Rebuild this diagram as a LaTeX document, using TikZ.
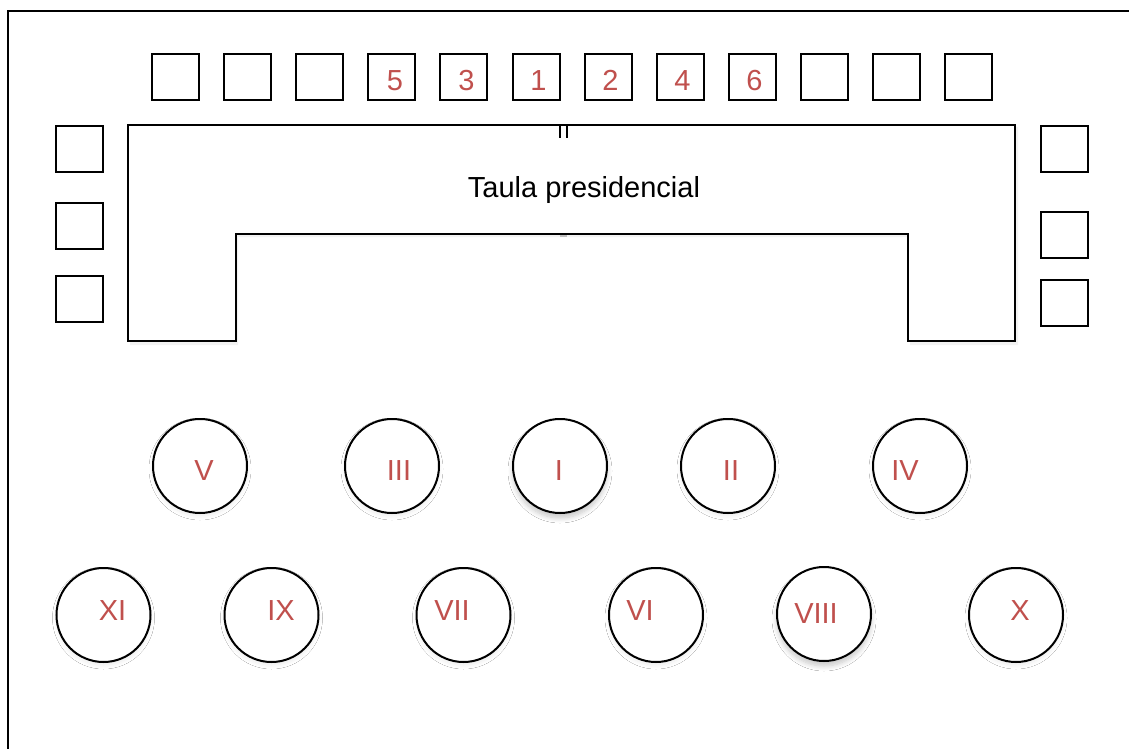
\documentclass[tikz,border=0pt]{standalone}
\usepackage{fontspec}
\setmainfont{Liberation Sans}
\usetikzlibrary{shadows.blur}
\definecolor{seatred}{RGB}{192,80,77}
\begin{document}
\begin{tikzpicture}[x=1pt,y=-1pt,
  ln/.style={line width=2pt,black},
  chair/.style={draw,ln,rectangle,minimum width=47pt,minimum height=46pt,inner sep=0pt},
  seat/.style={draw,ln,circle,minimum size=94pt,inner sep=0pt,fill=white,
     blur shadow={shadow blur steps=8,shadow xshift=0pt,shadow yshift=-3pt,shadow opacity=8,shadow blur radius=4pt}},
  seatstrong/.style={draw,ln,circle,minimum size=94pt,inner sep=0pt,fill=white,
     blur shadow={shadow blur steps=8,shadow xshift=0pt,shadow yshift=-5pt,shadow opacity=22,shadow blur radius=5pt}},
  lab/.style={font=\fontsize{29}{30}\selectfont,text=seatred,anchor=base,inner sep=0pt},
  ttl/.style={font=\fontsize{29}{30}\selectfont,text=black,anchor=base,inner sep=0pt}]
\useasboundingbox (0,0) rectangle (1129,749);
\fill[white] (0,0) rectangle (1129,749);
% frame
\coordinate (fb) at (7.5,760);
\coordinate (fc) at (7.5,10.7);
\coordinate (fr) at (1140,10.7);
\draw[ln] (fb) -- (fc) -- (fr);
% table
\fill[black,opacity=0.05] (130,127) -- (1018,127) -- (1018,345) -- (910,345) -- (910,237) -- (238,237) -- (238,345) -- (130,345) -- cycle;
\draw[ln,fill=white] (128,125) -- (1015,125) -- (1015,341) -- (908,341) -- (908,234) -- (236,234) -- (236,341) -- (128,341) -- cycle;
\draw[line width=1.2pt] (560,125) -- (560,138);
\draw[line width=1.2pt] (567,125) -- (567,138);
\draw[line width=2pt,black!25] (560,236) -- (567,236);
\node[ttl] (title) at (584,197) {Taula presidencial};
% top chairs
\foreach \i in {0,...,11} {
  \node[chair] (t\i) at ({175.5+72.1*\i},77) {};
}
\node[lab] (l5) at (395,91) {5};
\node[lab] (l3) at (466.5,91) {3};
\node[lab] (l1) at (538.5,91) {1};
\node[lab] (l2) at (610.5,91) {2};
\node[lab] (l4) at (682.5,91) {4};
\node[lab] (l6) at (754.5,91) {6};
% side chairs
\node[chair] (sl1) at (79.5,149) {};
\node[chair] (sl2) at (79.5,226) {};
\node[chair] (sl3) at (79.5,299) {};
\node[chair] (sr1) at (1064,149) {};
\node[chair] (sr2) at (1064,235) {};
\node[chair] (sr3) at (1064,303) {};
% row 1 seats
\node[seat] (cV) at (200,466) {};
\node[seat] (cIII) at (392,466) {};
\node[seatstrong] (cI) at (560,466) {};
\node[seat] (cII) at (728,466) {};
\node[seat] (cIV) at (920,466) {};
% row 2 seats
\node[seat] (cXI) at (103.5,615) {};
\node[seat] (cIX) at (271.5,615) {};
\node[seat] (cVII) at (463.5,615) {};
\node[seat] (cVI) at (656,615) {};
\node[seatstrong] (cVIII) at (824,614) {};
\node[seat] (cX) at (1016,615) {};
% labels
\node[lab] (tV) at (204,480.5) {V};
\node[lab] (tIII) at (399,480.5) {III};
\node[lab] (tI) at (559,480.5) {I};
\node[lab] (tII) at (731,480.5) {II};
\node[lab] (tIV) at (905,480.5) {IV};
\node[lab] (tXI) at (112.5,620) {XI};
\node[lab] (tIX) at (281,620) {IX};
\node[lab] (tVII) at (452,620) {VII};
\node[lab] (tVI) at (640,620) {VI};
\node[lab] (tVIII) at (816,623.5) {VIII};
\node[lab] (tX) at (1020,620) {X};
\end{tikzpicture}
\end{document}
